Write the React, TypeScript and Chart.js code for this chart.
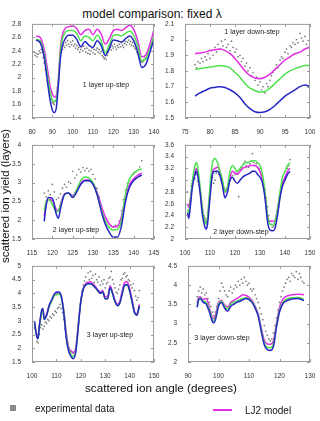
import { useEffect, useRef } from "react";
import { Chart, registerables } from "chart.js";

Chart.register(...registerables);

const FONT = "'Liberation Sans', Arial, Helvetica, sans-serif";
const MAGENTA = "rgb(226, 46, 226)";
const GREEN = "rgb(78, 226, 78)";
const BLUE = "rgb(38, 38, 196)";
const DOT = "rgba(105, 105, 105, 0.9)";

// ---------- 1 layer up-step ----------
const up1X = [80, 90, 100, 110, 120, 130, 140];
const up1Y = [1.4, 1.6, 1.8, 2, 2.2, 2.4, 2.6, 2.8];
const up1Angles = [82, 84, 86, 88, 89, 90, 91, 92, 93, 94, 95, 96, 98, 100, 102, 104, 106, 108, 110, 112, 114, 116, 118, 120, 122, 124, 126, 128, 130, 132, 134, 136, 138, 140];
const up1Lj2 = [2.62, 2.6, 2.42, 2.05, 1.86, 1.76, 1.71, 1.74, 2.0, 2.45, 2.64, 2.72, 2.76, 2.77, 2.73, 2.64, 2.7, 2.72, 2.64, 2.72, 2.65, 2.5, 2.58, 2.7, 2.72, 2.7, 2.74, 2.78, 2.72, 2.55, 2.31, 2.34, 2.5, 2.72];
const up1Green = [2.57, 2.55, 2.35, 1.95, 1.78, 1.67, 1.64, 1.68, 1.95, 2.4, 2.58, 2.66, 2.7, 2.7, 2.66, 2.55, 2.62, 2.6, 2.55, 2.63, 2.55, 2.37, 2.48, 2.63, 2.64, 2.62, 2.66, 2.69, 2.63, 2.47, 2.25, 2.28, 2.42, 2.63];
const up1Blue = [2.56, 2.52, 2.3, 1.85, 1.65, 1.52, 1.48, 1.56, 1.9, 2.3, 2.48, 2.56, 2.63, 2.63, 2.57, 2.46, 2.54, 2.48, 2.45, 2.55, 2.48, 2.33, 2.43, 2.56, 2.55, 2.53, 2.58, 2.62, 2.55, 2.38, 2.15, 2.2, 2.38, 2.57];
const up1Exp: [number, number][] = [
  [81, 2.38], [81.5, 2.33], [82, 2.36], [82.5, 2.31], [83, 2.35], [83.5, 2.4], [84, 2.37], [84.5, 2.42], [85, 2.38], [85.5, 2.3],
  [86, 2.22], [86.5, 2.12], [87, 2.05], [87.5, 1.95], [88, 1.9], [88.5, 1.8], [89, 1.74], [89.5, 1.68], [90, 1.64], [90.5, 1.62],
  [91, 1.6], [91.5, 1.66], [92, 1.72], [92.5, 1.85], [93, 2.05], [93.5, 2.2], [94, 2.32], [94.5, 2.38], [95, 2.42], [95.5, 2.48],
  [96, 2.45], [96.5, 2.52], [97, 2.48], [97.5, 2.55], [98, 2.5], [98.5, 2.46], [99, 2.53], [99.5, 2.49], [100, 2.55], [100.5, 2.47],
  [101, 2.5], [101.5, 2.44], [102, 2.48], [102.5, 2.42], [103, 2.45], [103.5, 2.38], [104, 2.42], [104.5, 2.46], [105, 2.4], [105.5, 2.47],
  [106, 2.43], [106.5, 2.38], [107, 2.44], [107.5, 2.36], [108, 2.41], [108.5, 2.35], [109, 2.4], [109.5, 2.44], [110, 2.37], [110.5, 2.42],
  [111, 2.35], [111.5, 2.41], [112, 2.44], [112.5, 2.38], [113, 2.42], [113.5, 2.36], [114, 2.39], [114.5, 2.33], [115, 2.31], [115.5, 2.28],
  [116, 2.3], [116.5, 2.27], [117, 2.33], [117.5, 2.38], [118, 2.42], [118.5, 2.45], [119, 2.41], [119.5, 2.47], [120, 2.44], [120.5, 2.5],
  [121, 2.46], [121.5, 2.42], [122, 2.48], [122.5, 2.45], [123, 2.5], [123.5, 2.46], [124, 2.52], [124.5, 2.48], [125, 2.45], [125.5, 2.51],
  [126, 2.54], [126.5, 2.49], [127, 2.53], [127.5, 2.56], [128, 2.5], [128.5, 2.54], [129, 2.48], [129.5, 2.52], [130, 2.47], [130.5, 2.44],
  [131, 2.42], [131.5, 2.38], [132, 2.35], [132.5, 2.3], [133, 2.27], [133.5, 2.25], [134, 2.23], [134.5, 2.24], [135, 2.27], [135.5, 2.3],
  [136, 2.28], [136.5, 2.33], [137, 2.37], [137.5, 2.42], [138, 2.45], [138.5, 2.48], [139, 2.52], [139.5, 2.55], [140, 2.58],
];

// ---------- 1 layer down-step ----------
const down1X = [75, 80, 85, 90, 95, 100];
const down1Y = [1.5, 1.6, 1.7, 1.8, 1.9, 2, 2.1];
const down1Angles = [77, 78, 79, 80, 81, 82, 83, 84, 85, 86, 87, 88, 89, 90, 91, 92, 93, 94, 95, 96, 97, 98, 99, 100];
const down1Lj2 = [1.91, 1.915, 1.92, 1.93, 1.935, 1.94, 1.93, 1.91, 1.88, 1.84, 1.8, 1.77, 1.755, 1.75, 1.76, 1.78, 1.81, 1.84, 1.87, 1.89, 1.91, 1.92, 1.94, 1.95];
const down1Green = [1.81, 1.815, 1.82, 1.825, 1.83, 1.835, 1.83, 1.82, 1.79, 1.76, 1.72, 1.69, 1.675, 1.665, 1.67, 1.69, 1.72, 1.75, 1.78, 1.8, 1.815, 1.825, 1.835, 1.835];
const down1Blue = [1.64, 1.66, 1.675, 1.69, 1.695, 1.7, 1.695, 1.68, 1.66, 1.63, 1.59, 1.56, 1.54, 1.535, 1.54, 1.555, 1.58, 1.61, 1.64, 1.66, 1.68, 1.7, 1.71, 1.7];
const down1Exp: [number, number][] = [
  [77, 1.84], [77.3, 1.82], [77.6, 1.86], [78, 1.85], [78.3, 1.88], [78.6, 1.86], [79, 1.89], [79.3, 1.87], [79.6, 1.91], [80, 1.88],
  [80.3, 1.93], [80.6, 1.9], [81, 1.95], [81.3, 1.92], [81.6, 1.97], [82, 1.94], [82.3, 1.99], [82.6, 1.96], [83, 2.0], [83.3, 1.95],
  [83.6, 1.97], [84, 1.93], [84.3, 1.99], [84.6, 1.95], [85, 1.92], [85.3, 1.94], [85.6, 1.89], [86, 1.9], [86.3, 1.86], [86.6, 1.88],
  [87, 1.83], [87.3, 1.85], [87.6, 1.8], [88, 1.82], [88.3, 1.77], [88.6, 1.79], [89, 1.74], [89.3, 1.76], [89.6, 1.71], [90, 1.73],
  [90.3, 1.68], [90.6, 1.7], [91, 1.66], [91.3, 1.72], [91.6, 1.7], [92, 1.74], [92.3, 1.77], [92.6, 1.79], [93, 1.81], [93.3, 1.84],
  [93.6, 1.82], [94, 1.87], [94.3, 1.89], [94.6, 1.88], [95, 1.92], [95.3, 1.94], [95.6, 1.91], [96, 1.96], [96.3, 1.95], [96.6, 1.98],
  [97, 1.97], [97.3, 2.0], [97.6, 1.98], [98, 2.04], [98.3, 2.01], [98.6, 1.99], [99, 2.02], [99.3, 1.97], [99.6, 1.95], [100, 1.93],
];

// ---------- 2 layer up-step ----------
const up2X = [115, 120, 125, 130, 135, 140, 145];
const up2Y = [1.5, 2, 2.5, 3, 3.5, 4];
const up2Angles = [118, 118.5, 119, 120, 121, 121.5, 122, 123, 124, 125, 126, 127, 128, 129, 130, 131, 132, 133, 134, 135, 136, 137, 138, 139, 140, 141, 142];
const up2Lj2 = [2.1, 2.45, 2.55, 2.52, 2.28, 2.25, 2.42, 2.7, 2.72, 2.65, 2.8, 2.98, 3.07, 3.07, 2.98, 2.75, 2.4, 2.1, 1.9, 1.82, 1.84, 2.1, 2.62, 2.95, 3.1, 3.2, 3.25];
const up2Green = [2.25, 2.5, 2.55, 2.42, 2.22, 2.25, 2.38, 2.68, 2.72, 2.62, 2.82, 3.05, 3.15, 3.12, 3.0, 2.7, 2.3, 1.98, 1.8, 1.74, 1.75, 2.0, 2.7, 3.1, 3.25, 3.33, 3.36];
const up2Blue = [1.97, 2.4, 2.6, 2.58, 2.15, 2.05, 2.3, 2.68, 2.72, 2.6, 2.75, 2.95, 3.05, 3.05, 2.95, 2.68, 2.25, 1.9, 1.68, 1.55, 1.55, 1.85, 2.5, 2.88, 3.05, 3.14, 3.2];
const up2Exp: [number, number][] = [
  [118, 2.72], [118.5, 2.62], [119, 2.78], [119.5, 2.68], [120, 2.95], [120.5, 2.75], [121, 2.55], [121.5, 2.6], [122, 2.7], [122.5, 2.85],
  [123, 2.95], [123.5, 2.88], [124, 3.02], [124.5, 2.98], [125, 3.3], [125.5, 3.12], [126, 3.2], [126.5, 3.35], [127, 3.28], [127.5, 3.4],
  [128, 3.32], [128.5, 3.38], [129, 3.3], [129.5, 3.35], [130, 3.22], [130.5, 3.1], [131, 2.85], [131.5, 2.62], [132, 2.4], [132.5, 2.22],
  [133, 2.05], [133.5, 1.97], [134, 1.9], [134.5, 1.84], [135, 1.82], [135.5, 1.86], [136, 1.83], [136.5, 1.98], [137, 2.25], [137.5, 2.55],
  [138, 2.8], [138.5, 2.98], [139, 3.08], [139.5, 3.18], [140, 3.22], [140.5, 3.28], [141, 3.32], [141.5, 3.42], [142, 3.58],
];

// ---------- 2 layer down-step ----------
const down2X = [100, 110, 120, 130, 140, 150];
const down2Y = [2, 2.2, 2.4, 2.6, 2.8, 3, 3.2, 3.4, 3.6];
const down2Angles = [101, 101.5, 102, 103, 104, 104.5, 105, 106, 107, 108, 108.5, 109, 110, 111, 112, 113, 114, 115, 116, 117, 118, 119, 120, 121, 122, 123, 124, 125, 126, 127, 128, 129, 130, 131, 132, 133, 134, 135, 136, 137, 138, 139, 140, 141, 142];
const down2Lj2 = [2.6, 2.55, 2.65, 2.95, 3.15, 3.2, 3.15, 2.85, 2.5, 2.3, 2.28, 2.35, 2.8, 3.15, 3.2, 3.22, 3.15, 2.95, 2.8, 2.85, 3.05, 3.15, 3.12, 3.1, 3.15, 3.2, 3.22, 3.23, 3.25, 3.25, 3.25, 3.22, 3.15, 3.0, 2.75, 2.4, 2.3, 2.3, 2.32, 2.5, 2.75, 2.95, 3.05, 3.15, 3.2];
const down2Green = [2.5, 2.45, 2.58, 3.0, 3.25, 3.3, 3.25, 2.9, 2.5, 2.3, 2.25, 2.35, 2.9, 3.3, 3.37, 3.3, 3.15, 3.0, 2.8, 2.9, 3.15, 3.25, 3.2, 3.15, 3.2, 3.25, 3.3, 3.3, 3.32, 3.33, 3.33, 3.3, 3.25, 3.1, 2.8, 2.4, 2.25, 2.24, 2.3, 2.5, 2.8, 3.05, 3.15, 3.25, 3.3];
const down2Blue = [2.45, 2.35, 2.5, 2.9, 3.1, 3.15, 3.1, 2.8, 2.4, 2.2, 2.17, 2.25, 2.7, 3.1, 3.15, 3.15, 3.08, 2.9, 2.7, 2.8, 3.0, 3.05, 2.98, 2.95, 3.0, 3.05, 3.08, 3.1, 3.12, 3.15, 3.15, 3.1, 3.05, 2.95, 2.7, 2.3, 2.15, 2.14, 2.18, 2.4, 2.7, 2.9, 3.0, 3.1, 3.15];
const down2Exp: [number, number][] = [
  [101, 2.8], [101.5, 2.55], [102, 2.65], [102.5, 2.9], [103, 3.0], [103.5, 3.05], [104, 3.02], [104.5, 3.1], [105, 2.98], [105.5, 2.92],
  [106, 2.85], [106.5, 2.7], [107, 2.55], [107.5, 2.4], [108, 2.35], [108.5, 2.3], [109, 2.45], [109.5, 2.6], [110, 2.75], [110.5, 2.95],
  [111, 3.05], [111.5, 2.95], [112, 3.0], [112.5, 3.12], [113, 3.15], [113.5, 3.1], [114, 3.12], [114.5, 3.0], [115, 2.95], [115.5, 2.88],
  [116, 2.85], [116.5, 2.82], [117, 2.88], [117.5, 2.95], [118, 3.0], [118.5, 3.05], [119, 3.08], [119.5, 3.02], [120, 3.1], [120.5, 3.15],
  [121, 3.12], [121.5, 2.72], [122, 3.18], [122.5, 3.22], [123, 3.2], [123.5, 3.28], [124, 3.32], [124.5, 3.25], [125, 3.3], [125.5, 3.22],
  [126, 3.28], [126.5, 3.32], [127, 3.45], [127.5, 3.3], [128, 3.25], [128.5, 3.28], [129, 3.22], [129.5, 3.18], [130, 3.2], [130.5, 3.1],
  [131, 3.0], [131.5, 2.9], [132, 2.85], [132.5, 2.7], [133, 2.55], [133.5, 2.4], [134, 2.3], [134.5, 2.25], [135, 2.2], [135.5, 2.22],
  [136, 2.25], [136.5, 2.3], [137, 2.4], [137.5, 2.55], [138, 2.7], [138.5, 2.85], [139, 2.95], [139.5, 3.0], [140, 3.05], [140.5, 3.1],
  [141, 3.2], [141.5, 3.25], [142, 3.35],
];

// ---------- 3 layer up-step ----------
const up3X = [100, 110, 120, 130, 140, 150];
const up3Y = [1.5, 2, 2.5, 3, 3.5, 4, 4.5, 5];
const up3Angles = [101, 102, 102.5, 103, 104, 104.5, 105, 106, 107, 108, 109, 110, 111, 112, 113, 114, 115, 116, 117, 118, 119, 120, 121, 122, 123, 124, 125, 126, 127, 128, 129, 130, 131, 132, 133, 134, 135, 136, 137, 138, 139, 140, 141, 142, 143, 144];
const up3Lj2 = [2.85, 2.5, 2.45, 2.8, 3.3, 3.35, 3.1, 3.25, 3.55, 3.72, 3.9, 4.0, 4.0, 3.88, 3.4, 2.6, 2.05, 1.9, 1.85, 2.05, 2.9, 3.75, 4.2, 4.35, 4.4, 4.42, 4.35, 4.25, 4.12, 4.05, 4.1, 3.88, 3.9, 4.28, 4.05, 3.75, 3.6, 3.72, 4.1, 4.4, 4.42, 4.18, 3.78, 3.35, 3.25, 3.6];
const up3Green = [2.9, 2.45, 2.4, 2.75, 3.3, 3.35, 3.05, 3.2, 3.5, 3.7, 3.9, 3.95, 3.98, 3.85, 3.35, 2.5, 1.98, 1.78, 1.7, 1.95, 2.85, 3.7, 4.15, 4.3, 4.35, 4.35, 4.3, 4.2, 4.08, 4.0, 4.05, 3.8, 3.82, 4.2, 4.0, 3.7, 3.55, 3.65, 4.0, 4.28, 4.3, 4.08, 3.7, 3.3, 3.2, 3.5];
const up3Blue = [3.0, 2.4, 2.35, 2.8, 3.4, 3.45, 3.05, 3.2, 3.55, 3.75, 3.95, 4.05, 4.05, 3.9, 3.3, 2.4, 1.9, 1.7, 1.62, 1.9, 2.8, 3.7, 4.15, 4.3, 4.35, 4.35, 4.3, 4.2, 4.1, 4.0, 4.05, 3.8, 3.8, 4.2, 4.0, 3.7, 3.55, 3.65, 4.0, 4.3, 4.32, 4.1, 3.7, 3.3, 3.2, 3.55];
const up3Exp: [number, number][] = [
  [101, 2.75], [101.5, 2.55], [102, 2.25], [102.5, 2.2], [103, 2.5], [103.5, 2.75], [104, 2.85], [104.5, 2.7], [105, 2.8], [105.5, 2.95],
  [106, 2.9], [106.5, 3.05], [107, 3.0], [107.5, 3.15], [108, 3.1], [108.5, 3.25], [109, 3.2], [109.5, 3.35], [110, 3.3], [110.5, 3.45],
  [111, 3.5], [111.5, 3.6], [112, 3.45], [112.5, 3.3], [113, 3.05], [113.5, 2.7], [114, 2.4], [114.5, 2.2], [115, 2.05], [115.5, 1.95],
  [116, 1.9], [116.5, 1.85], [117, 1.82], [117.5, 1.88], [118, 2.05], [118.5, 2.4], [119, 2.9], [119.5, 3.4], [120, 3.8], [120.5, 4.1],
  [121, 4.3], [121.5, 4.45], [122, 4.6], [122.5, 4.4], [123, 4.75], [123.5, 4.5], [124, 4.8], [124.5, 4.55], [125, 4.65], [125.5, 4.4],
  [126, 4.7], [126.5, 4.5], [127, 4.4], [127.5, 4.6], [128, 4.3], [128.5, 4.45], [129, 4.35], [129.5, 4.5], [130, 4.2], [130.5, 4.35],
  [131, 4.4], [131.5, 4.55], [132, 4.6], [132.5, 4.8], [133, 4.5], [133.5, 4.35], [134, 4.2], [134.5, 4.05], [135, 4.0], [135.5, 4.15],
  [136, 4.3], [136.5, 4.5], [137, 4.55], [137.5, 4.7], [138, 4.75], [138.5, 4.6], [139, 4.65], [139.5, 4.5], [140, 4.45], [140.5, 4.3],
  [141, 4.2], [141.5, 4.35], [142, 4.1], [142.5, 3.9], [143, 3.75], [143.5, 3.85], [144, 4.1],
];

// ---------- 3 layer down-step ----------
const down3X = [90, 100, 110, 120, 130];
const down3Y = [2, 2.5, 3, 3.5, 4, 4.5];
const down3Angles = [93, 93.5, 94, 95, 96, 97, 98, 98.5, 99, 100, 101, 102, 103, 104, 105, 106, 107, 108, 109, 110, 111, 112, 113, 114, 115, 116, 117, 118, 119, 120, 121, 122, 124, 126, 128];
const down3Lj2 = [3.55, 3.68, 3.7, 3.62, 3.65, 3.42, 3.15, 3.13, 3.22, 3.55, 3.6, 3.48, 3.43, 3.55, 3.6, 3.65, 3.7, 3.75, 3.73, 3.68, 3.6, 3.45, 3.25, 2.9, 2.57, 2.47, 2.46, 2.55, 3.0, 3.42, 3.62, 3.7, 3.75, 3.76, 3.75];
const down3Green = [3.45, 3.64, 3.67, 3.58, 3.55, 3.35, 3.1, 3.08, 3.15, 3.5, 3.58, 3.45, 3.38, 3.5, 3.55, 3.58, 3.62, 3.65, 3.67, 3.64, 3.57, 3.43, 3.22, 2.85, 2.5, 2.38, 2.37, 2.47, 2.95, 3.35, 3.53, 3.62, 3.67, 3.68, 3.63];
const down3Blue = [3.42, 3.62, 3.65, 3.55, 3.5, 3.3, 3.05, 3.02, 3.1, 3.45, 3.55, 3.4, 3.32, 3.45, 3.5, 3.55, 3.58, 3.62, 3.65, 3.62, 3.55, 3.4, 3.2, 2.8, 2.45, 2.32, 2.3, 2.4, 2.9, 3.3, 3.5, 3.58, 3.64, 3.65, 3.6];
const down3Exp: [number, number][] = [
  [93, 3.7], [93.5, 3.85], [94, 3.95], [94.5, 3.8], [95, 3.9], [95.5, 3.75], [96, 3.8], [96.5, 3.65], [97, 3.55], [97.5, 3.45],
  [98, 3.3], [98.5, 3.2], [99, 3.3], [99.5, 3.45], [100, 3.65], [100.5, 3.85], [101, 4.05], [101.5, 3.95], [102, 3.85], [102.5, 3.75],
  [103, 3.7], [103.5, 3.85], [104, 3.95], [104.5, 3.8], [105, 3.9], [105.5, 4.0], [106, 3.95], [106.5, 4.1], [107, 4.0], [107.5, 4.15],
  [108, 4.05], [108.5, 4.2], [109, 4.1], [109.5, 4.0], [110, 4.05], [110.5, 3.9], [111, 3.85], [111.5, 3.9], [112, 3.75], [112.5, 3.65],
  [113, 3.55], [113.5, 3.4], [114, 3.25], [114.5, 3.1], [115, 2.95], [115.5, 2.8], [116, 2.7], [116.5, 2.6], [117, 2.55], [117.5, 2.6],
  [118, 2.75], [118.5, 2.95], [119, 3.15], [119.5, 3.35], [120, 3.55], [120.5, 3.7], [121, 3.85], [121.5, 3.95], [122, 4.05], [122.5, 4.15],
  [123, 4.2], [123.5, 4.1], [124, 4.3], [124.5, 4.25], [125, 4.2], [125.5, 4.35], [126, 4.15], [126.5, 4.3], [127, 4.2], [127.5, 4.1],
  [128, 4.05],
];

// canvas margin around each plot box (room for tick labels)
const PAD_L = 30;
const PAD_T = 6;
const PAD_R = 8;
const PAD_B = 16;

const fmt = (v: number | string) => String(Math.round(Number(v) * 100) / 100);

// gnuplot-like frame: grey border with inward ticks on all four sides
const framePlugin = {
  id: "frame",
  afterDatasetsDraw(chart: any) {
    const { ctx, chartArea: a, scales } = chart;
    ctx.save();
    ctx.strokeStyle = "#9c9c9c";
    ctx.lineWidth = 1;
    ctx.strokeRect(a.left + 0.5, a.top + 0.5, a.right - a.left - 1, a.bottom - a.top - 1);
    ctx.beginPath();
    for (const t of scales.x.ticks) {
      const px = Math.round(scales.x.getPixelForValue(t.value)) + 0.5;
      ctx.moveTo(px, a.bottom);
      ctx.lineTo(px, a.bottom - 3);
      ctx.moveTo(px, a.top);
      ctx.lineTo(px, a.top + 3);
    }
    for (const t of scales.y.ticks) {
      const py = Math.round(scales.y.getPixelForValue(t.value)) + 0.5;
      ctx.moveTo(a.left, py);
      ctx.lineTo(a.left + 3, py);
      ctx.moveTo(a.right, py);
      ctx.lineTo(a.right - 3, py);
    }
    ctx.stroke();
    ctx.restore();
  },
};

type PanelProps = {
  left: number;
  top: number;
  width: number;
  height: number;
  xTicks: number[];
  yTicks: number[];
  angles: number[];
  lj2: number[];
  green: number[];
  blue: number[];
  exp: [number, number][];
  label: string;
  labelX: number;
  labelY: number;
};

function Panel(p: PanelProps) {
  const ref = useRef<HTMLCanvasElement>(null);

  useEffect(() => {
    const toXY = (ys: number[]) => p.angles.map((x, i) => ({ x, y: ys[i] }));
    const model = (label: string, ys: number[], color: string) => ({
      label,
      data: toXY(ys),
      showLine: true,
      borderColor: color,
      backgroundColor: color,
      borderWidth: 1.5,
      pointRadius: 0,
      cubicInterpolationMode: "monotone" as const,
    });
    const tickFont = { family: FONT, size: 6.5 };
    const chart = new Chart(ref.current as HTMLCanvasElement, {
      type: "scatter",
      data: {
        datasets: [
          model("blue model", p.blue, BLUE),
          model("green model", p.green, GREEN),
          model("LJ2 model", p.lj2, MAGENTA),
          {
            label: "experimental data",
            data: p.exp.map(([x, y]) => ({ x, y })),
            pointRadius: 0.85,
            pointBorderWidth: 0,
            pointBackgroundColor: DOT,
            showLine: false,
          },
        ],
      },
      options: {
        animation: false,
        responsive: false,
        devicePixelRatio: 1,
        layout: { padding: { top: PAD_T, right: PAD_R, left: 0, bottom: 0 } },
        plugins: { legend: { display: false }, tooltip: { enabled: false } },
        scales: {
          x: {
            type: "linear",
            min: p.xTicks[0],
            max: p.xTicks[p.xTicks.length - 1],
            grid: { display: false },
            border: { display: false },
            ticks: { font: tickFont, color: "#333", padding: 2, maxRotation: 0, autoSkip: false, callback: fmt },
            afterBuildTicks: (s: any) => {
              s.ticks = p.xTicks.map((value) => ({ value }));
            },
            afterFit: (s: any) => {
              s.height = PAD_B;
            },
          },
          y: {
            type: "linear",
            min: p.yTicks[0],
            max: p.yTicks[p.yTicks.length - 1],
            grid: { display: false },
            border: { display: false },
            ticks: { font: tickFont, color: "#333", padding: 3, autoSkip: false, callback: fmt },
            afterBuildTicks: (s: any) => {
              s.ticks = p.yTicks.map((value) => ({ value }));
            },
            afterFit: (s: any) => {
              s.width = PAD_L;
            },
          },
        },
      },
      plugins: [framePlugin],
    } as any);
    return () => chart.destroy();
  }, []);

  const w = p.width + PAD_L + PAD_R;
  const h = p.height + PAD_T + PAD_B;
  return (
    <>
      <canvas
        ref={ref}
        width={w}
        height={h}
        style={{ position: "absolute", left: p.left - PAD_L, top: p.top - PAD_T, width: w, height: h }}
      />
      <div
        style={{
          position: "absolute",
          left: p.labelX,
          top: p.labelY,
          transform: "translate(-50%, -50%)",
          font: `7px ${FONT}`,
          color: "#222",
          whiteSpace: "nowrap",
        }}
      >
        {p.label}
      </div>
    </>
  );
}

export default function App() {
  return (
    <div
      style={{
        position: "absolute",
        left: 0,
        top: 0,
        width: 320,
        height: 421,
        overflow: "hidden",
        background: "#fff",
        fontFamily: FONT,
      }}
    >
      <div
        style={{
          position: "absolute",
          left: 152,
          top: 14,
          transform: "translate(-50%, -50%)",
          fontSize: 12,
          color: "#111",
          whiteSpace: "nowrap",
        }}
      >
        model comparison: fixed λ
      </div>

      <Panel left={32} top={23} width={122} height={95} xTicks={up1X} yTicks={up1Y}
        angles={up1Angles} lj2={up1Lj2} green={up1Green} blue={up1Blue} exp={up1Exp}
        label="1 layer up-step" labelX={106} labelY={84} />
      <Panel left={185} top={23} width={125} height={95} xTicks={down1X} yTicks={down1Y}
        angles={down1Angles} lj2={down1Lj2} green={down1Green} blue={down1Blue} exp={down1Exp}
        label="1 layer down-step" labelX={252} labelY={31} />
      <Panel left={32} top={144} width={122} height={95} xTicks={up2X} yTicks={up2Y}
        angles={up2Angles} lj2={up2Lj2} green={up2Green} blue={up2Blue} exp={up2Exp}
        label="2 layer up-step" labelX={76} labelY={229} />
      <Panel left={185} top={144} width={125} height={95} xTicks={down2X} yTicks={down2Y}
        angles={down2Angles} lj2={down2Lj2} green={down2Green} blue={down2Blue} exp={down2Exp}
        label="2 layer down-step" labelX={241} labelY={231} />
      <Panel left={32} top={265} width={122} height={97} xTicks={up3X} yTicks={up3Y}
        angles={up3Angles} lj2={up3Lj2} green={up3Green} blue={up3Blue} exp={up3Exp}
        label="3 layer up-step" labelX={110} labelY={334} />
      <Panel left={188} top={265} width={122} height={97} xTicks={down3X} yTicks={down3Y}
        angles={down3Angles} lj2={down3Lj2} green={down3Green} blue={down3Blue} exp={down3Exp}
        label="3 layer down-step" labelX={222} labelY={337} />

      <div
        style={{
          position: "absolute",
          left: 5,
          top: 196,
          transform: "translate(-50%, -50%) rotate(-90deg)",
          fontSize: 11.5,
          color: "#111",
          whiteSpace: "nowrap",
        }}
      >
        scattered ion yield (layers)
      </div>
      <div
        style={{
          position: "absolute",
          left: 161,
          top: 387,
          transform: "translate(-50%, -50%)",
          fontSize: 11.7,
          color: "#111",
          whiteSpace: "nowrap",
        }}
      >
        scattered ion angle (degrees)
      </div>

      <div style={{ position: "absolute", left: 10, top: 405, width: 6, height: 6, background: "#8a8a8a" }} />
      <div
        style={{
          position: "absolute",
          left: 35,
          top: 408,
          transform: "translateY(-50%)",
          fontSize: 10,
          color: "#111",
          whiteSpace: "nowrap",
        }}
      >
        experimental data
      </div>
      <div style={{ position: "absolute", left: 213, top: 409, width: 19, height: 2, background: MAGENTA }} />
      <div
        style={{
          position: "absolute",
          left: 245,
          top: 410,
          transform: "translateY(-50%)",
          fontSize: 10,
          color: "#111",
          whiteSpace: "nowrap",
        }}
      >
        LJ2 model
      </div>
    </div>
  );
}
